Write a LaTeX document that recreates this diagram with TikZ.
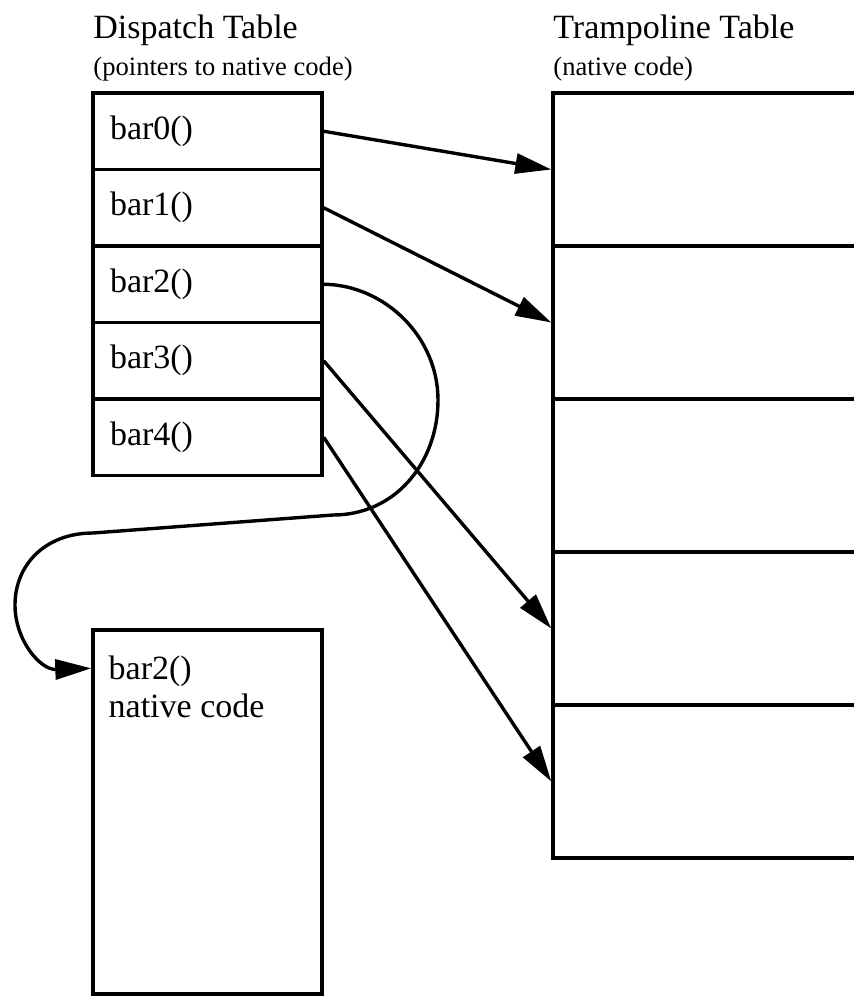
\documentclass[tikz,border=0pt]{standalone}
\usepackage{fontspec}
\setmainfont{Liberation Serif}
\usetikzlibrary{arrows.meta}
\tikzset{
    slot/.style={draw, line width=1.7pt, rectangle, minimum height=38.25pt,
        text width=97.5pt, inner xsep=8.5pt, inner ysep=0pt, align=left,
        font=\fontsize{17}{20}\selectfont},
    tramp/.style={draw, line width=1.7pt, rectangle, minimum width=173.5pt,
        minimum height=76.5pt, inner sep=0pt},
    codebox/.style={draw, line width=1.7pt, rectangle, minimum width=114.5pt,
        minimum height=182pt, inner sep=0pt},
    link/.style={line width=1.7pt, -{Triangle[length=18pt,width=10pt]}},
    title/.style={anchor=base west, inner sep=0pt, font=\fontsize{17}{20}\selectfont},
    subtitle/.style={anchor=base west, inner sep=0pt, font=\fontsize{13.3}{16}\selectfont},
}

\begin{document}
\begin{tikzpicture}[x=0.5pt, y=-0.5pt]
\useasboundingbox (0,0) rectangle (854,996);
\clip (0,0) rectangle (854,996);

% headings
\node[title] (dtitle) at (93,38) {Dispatch Table};
\node[subtitle] (dsub) at (93,75) {(pointers to native code)};
\node[title] (ttitle) at (553,38) {Trampoline Table};
\node[subtitle] (tsub) at (553,75) {(native code)};

% dispatch table and trampoline table
\foreach \i in {0,...,4} {
    \node[slot] (d\i) at (207.5,131.25+76.5*\i) {bar\i()};
    \node[tramp] (t\i) at (726.5,169.5+153*\i) {};
}

% native code of bar2
\node[codebox] (nat) at (207.5,812) {};
\node[anchor=north west, inner sep=0pt, align=left,
    font=\fontsize{17}{19}\selectfont] (natlbl)
    at ([xshift=8.5pt, yshift=-13.5pt]nat.north west) {bar2()\\native code};
\coordinate (natin) at ([yshift=-20pt]nat.north west);

% pointers
\draw[link] (d0.east) -- (t0.west);
\draw[link] (d1.east) -- (t1.west);
\draw[link] (d3.east) -- (t3.west);
\draw[link] (d4.east) -- (t4.west);
\draw[link] (d2.east) .. controls (385,285) and (438,337) .. (438,400)
    .. controls (438,463) and (395,515) .. (333,515) -- (93,533)
    .. controls (45,533) and (15,565) .. (15,605)
    .. controls (15,640) and (40,670) .. (natin);
\end{tikzpicture}
\end{document}
